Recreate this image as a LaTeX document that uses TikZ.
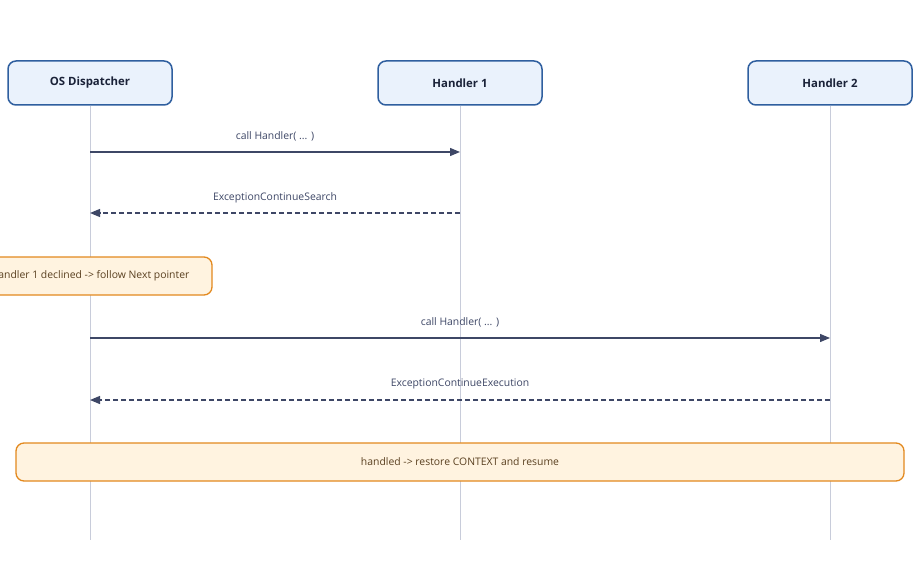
\documentclass[tikz,border=0pt]{standalone}
\usepackage{fontspec}
\setmainfont{Open Sans}
\usetikzlibrary{arrows.meta}
\definecolor{hdrfill}{HTML}{EAF2FC}
\definecolor{hdrdraw}{HTML}{2F5F9F}
\definecolor{hdrtext}{HTML}{1A2238}
\definecolor{lifeline}{HTML}{C8CCDA}
\definecolor{msg}{HTML}{3E4766}
\definecolor{notefill}{HTML}{FFF3E0}
\definecolor{notedraw}{HTML}{E3891E}
\definecolor{notetext}{HTML}{5A4020}
\tikzset{
  x=1pt,y=-1pt,
  actor/.style={draw=hdrdraw,fill=hdrfill,line width=1.5pt,rounded corners=8pt,
    minimum width=164pt,minimum height=44pt,inner sep=0pt,
    font=\fontsize{11.4}{14}\selectfont\bfseries,text=hdrtext},
  lline/.style={draw=lifeline,line width=1pt},
  msgline/.style={draw=msg,line width=1.2pt,-{Triangle[length=10pt,width=8pt]}},
  retline/.style={msgline,dash pattern=on 5pt off 3pt},
  msglabel/.style={font=\fontsize{10.4}{13}\selectfont,text=msg,inner sep=0pt},
  note/.style={draw=notedraw,fill=notefill,line width=1.3pt,rounded corners=8pt,
    minimum height=38pt,inner sep=0pt,font=\fontsize{10.4}{13}\selectfont,text=notetext},
}
\begin{document}
\begin{tikzpicture}
\useasboundingbox (0,0) rectangle (920,564);
\clip (0,0) rectangle (920,564);
\fill[white] (0,0) rectangle (920,564);
% actors
\node[actor] (os) at (90,83) {OS Dispatcher};
\node[actor] (h1) at (460,83) {Handler 1};
\node[actor] (h2) at (830,83) {Handler 2};
% lifeline ends
\coordinate (osE) at (90,540);
\coordinate (h1E) at (460,540);
\coordinate (h2E) at (830,540);
\draw[lline] (os.south) -- (osE);
\draw[lline] (h1.south) -- (h1E);
\draw[lline] (h2.south) -- (h2E);
% message anchors
\coordinate (m1a) at (90,152); \coordinate (m1b) at (460,152);
\coordinate (m2a) at (460,213); \coordinate (m2b) at (90,213);
\coordinate (m3a) at (90,338); \coordinate (m3b) at (830,338);
\coordinate (m4a) at (830,400); \coordinate (m4b) at (90,400);
\draw[msgline] (m1a) -- (m1b);
\node[msglabel] (l1) at (275,136) {call Handler( ... )};
\draw[retline] (m2a) -- (m2b);
\node[msglabel] (l2) at (275,198) {ExceptionContinueSearch};
\node[note,minimum width=244pt] (n1) at (90,276) {Handler 1 declined -> follow Next pointer};
\draw[msgline] (m3a) -- (m3b);
\node[msglabel] (l3) at (460,322) {call Handler( ... )};
\draw[retline] (m4a) -- (m4b);
\node[msglabel] (l4) at (460,384) {ExceptionContinueExecution};
\node[note,minimum width=888pt] (n2) at (460,462) {handled -> restore CONTEXT and resume};
\end{tikzpicture}
\end{document}
